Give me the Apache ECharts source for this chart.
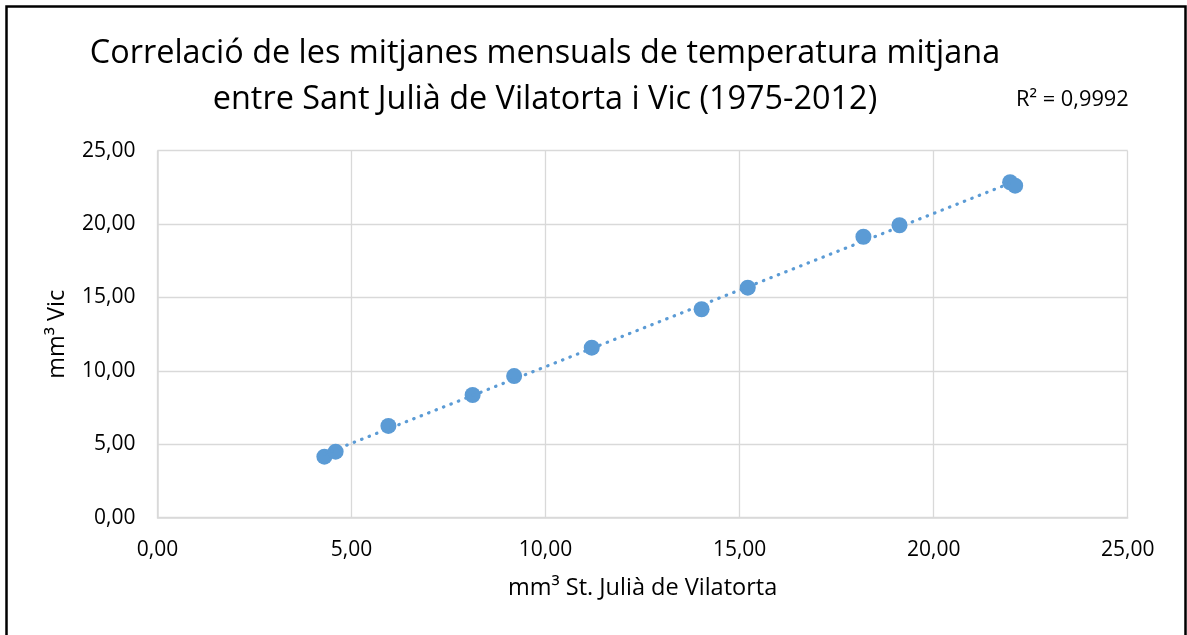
<!DOCTYPE html>
<html>
<head>
<meta charset="utf-8">
<style>
  html, body { margin: 0; padding: 0; background: #ffffff; }
  #chart { width: 1187px; height: 635px; }
</style>
<script src="https://cdn.jsdelivr.net/npm/echarts@6/dist/echarts.min.js"></script>
</head>
<body>
<div id="chart"></div>
<script>
// Monthly mean temperatures (1975-2012): Sant Julià de Vilatorta (x) vs Vic (y)
const santJulia = [4.30, 4.59, 5.95, 8.12, 9.19, 11.19, 14.02, 15.21, 18.19, 19.12, 21.97, 22.10];
const vic       = [4.16, 4.50, 6.25, 8.36, 9.65, 11.58, 14.20, 15.67, 19.14, 19.92, 22.85, 22.62];

const titleLines = [
  'Correlació de les mitjanes mensuals de temperatura mitjana',
  'entre Sant Julià de Vilatorta i Vic (1975-2012)'
];
const xAxisTitle = 'mm³ St. Julià de Vilatorta';
const yAxisTitle = 'mm³ Vic';
const rSquaredText = 'R² = 0,9992';
const axisMin = 0, axisMax = 25, axisStep = 5;

const FONT = '"Open Sans", "Noto Sans", sans-serif';
const BLUE = '#5B9BD5';
const GRID = '#D9D9D9';

// Least-squares linear trendline over the data range
function linearFit(xs, ys) {
  const n = xs.length;
  let sx = 0, sy = 0, sxx = 0, sxy = 0;
  for (let i = 0; i < n; i++) { sx += xs[i]; sy += ys[i]; sxx += xs[i] * xs[i]; sxy += xs[i] * ys[i]; }
  const slope = (n * sxy - sx * sy) / (n * sxx - sx * sx);
  const intercept = (sy - slope * sx) / n;
  return { slope, intercept };
}
const fit = linearFit(santJulia, vic);
const xLo = Math.min(...santJulia), xHi = Math.max(...santJulia);
const trend = [[xLo, fit.intercept + fit.slope * xLo], [xHi, fit.intercept + fit.slope * xHi]];

const points = santJulia.map((x, i) => [x, vic[i]]);
const fmt = v => v.toFixed(2).replace('.', ',');

const chart = echarts.init(document.getElementById('chart'), null, { renderer: 'canvas' });
chart.setOption({
  animation: false,
  backgroundColor: '#ffffff',
  textStyle: { fontFamily: FONT },
  graphic: [
    {
      type: 'rect', z: 100, silent: true,
      shape: { x: 6.5, y: 6.5, width: 1179, height: 640 },
      style: { fill: 'none', stroke: '#000000', lineWidth: 2.5 }
    },
    {
      type: 'text', silent: true,
      x: 545, y: 54,
      style: {
        text: titleLines[0], fontFamily: FONT, fontSize: 32.4,
        fill: '#000000', align: 'center', verticalAlign: 'middle'
      }
    },
    {
      type: 'text', silent: true,
      x: 545, y: 100,
      style: {
        text: titleLines[1], fontFamily: FONT, fontSize: 32.4,
        fill: '#000000', align: 'center', verticalAlign: 'middle'
      }
    },
    {
      type: 'text', silent: true,
      x: 1016, y: 100,
      style: {
        text: rSquaredText, fontFamily: FONT, fontSize: 21.8,
        fill: '#000000', align: 'left', verticalAlign: 'middle'
      }
    }
  ],
  grid: { left: 157.5, right: 59.3, top: 150.7, bottom: 117.3, containLabel: false },
  xAxis: {
    type: 'value', min: axisMin, max: axisMax, interval: axisStep,
    name: xAxisTitle, nameLocation: 'middle', nameGap: 59,
    nameTextStyle: { fontFamily: FONT, fontSize: 23.5, color: '#000000' },
    axisLine: { show: true, lineStyle: { color: GRID, width: 1.5 } },
    axisTick: { show: false },
    splitLine: { show: true, lineStyle: { color: GRID, width: 1.3 } },
    axisLabel: {
      fontFamily: FONT, fontSize: 21, color: '#000000', margin: 20, lineHeight: 24,
      formatter: fmt
    }
  },
  yAxis: {
    type: 'value', min: axisMin, max: axisMax, interval: axisStep,
    name: yAxisTitle, nameLocation: 'middle', nameGap: 88, nameRotate: 90,
    nameTextStyle: { fontFamily: FONT, fontSize: 23.5, color: '#000000' },
    axisLine: { show: true, lineStyle: { color: GRID, width: 1.5 } },
    axisTick: { show: false },
    splitLine: { show: true, lineStyle: { color: GRID, width: 1.3 } },
    axisLabel: {
      fontFamily: FONT, fontSize: 21, color: '#000000', margin: 22,
      formatter: fmt
    }
  },
  series: [
    {
      type: 'scatter', data: points, symbol: 'circle', symbolSize: 16,
      itemStyle: { color: BLUE, opacity: 1 }, z: 3
    },
    {
      type: 'line', data: trend, showSymbol: false, symbol: 'none', z: 4,
      lineStyle: { color: BLUE, width: 3.2, type: [0.5, 7.5], cap: 'round' }
    }
  ]
});
</script>
</body>
</html>
